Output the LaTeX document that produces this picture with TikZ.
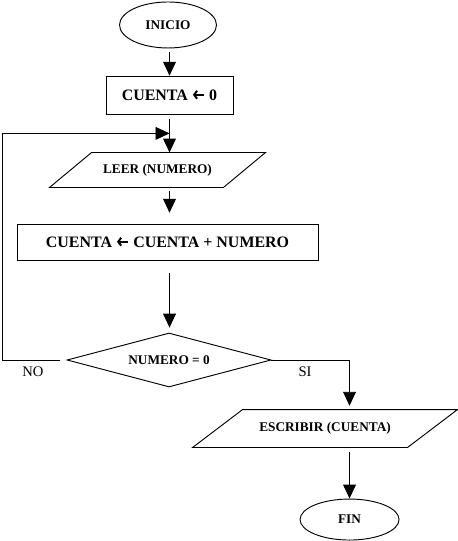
\documentclass[tikz,border=0pt]{standalone}
\usepackage{fontspec}
\setmainfont{Liberation Serif}
\usetikzlibrary{shapes.geometric, arrows.meta, positioning, calc}

\newcommand{\asigna}{\tikz[baseline=-0.75ex]\draw[line width=1.5pt, {Straight Barb[length=2.2pt, width=6pt, line width=1.5pt]}-] (0,0) -- (0.3,0);}

\begin{document}
\begin{tikzpicture}[
    line width=0.7pt,
    terminal/.style={draw, ellipse, inner sep=0pt, font=\bfseries\fontsize{10}{12}\selectfont},
    proceso/.style={draw, rectangle, inner sep=0pt, font=\bfseries\fontsize{12}{14}\selectfont},
    datos/.style={rectangle, inner sep=0pt, font=\bfseries\fontsize{10}{12}\selectfont},
    decision_box/.style={draw, diamond, aspect=3.78, inner sep=0pt, font=\bfseries\fontsize{10}{12}\selectfont},
    etiqueta/.style={font=\fontsize{11}{13}\selectfont},
    flecha/.style={-{Triangle[length=0.37cm, width=0.34cm]}}
]

\useasboundingbox (0,0) rectangle (12.118,-14.314);

% INICIO Y CONTADOR
\node[terminal, minimum width=2.566cm, minimum height=1.217cm] (inicio) at (4.445,-0.661) {INICIO};
\node[proceso, minimum width=3.360cm, minimum height=1.005cm] (cuenta0) at (4.485,-2.514) {CUENTA \asigna{} 0};

% LECTURA Y SUMA
\node[datos, minimum width=4.577cm, minimum height=0.9cm] (leer) at (4.167,-4.498) {LEER (NUMERO)};
\draw ([xshift=-0.556cm]leer.south west) -- ([xshift=-0.556cm]leer.south east)
   -- ([xshift=0.556cm]leer.north east) -- ([xshift=0.556cm]leer.north west) -- cycle;
\node[proceso, minimum width=7.964cm, minimum height=0.953cm] (suma) at (4.432,-6.403) {CUENTA \asigna{} CUENTA + NUMERO};

% DECISION
\node[decision_box, minimum width=5.398cm, minimum height=1.429cm] (prueba) at (4.472,-9.525) {NUMERO = 0};
\node[etiqueta] (no) at (0.873,-9.843) {NO};
\node[etiqueta] (si) at (8.07,-9.843) {SI};

% SALIDA Y FIN
\node[datos, minimum width=5.662cm, minimum height=0.979cm] (escribir) at (8.600,-11.338) {ESCRIBIR (CUENTA)};
\draw ([xshift=-0.661cm]escribir.south west) -- ([xshift=-0.661cm]escribir.south east)
   -- ([xshift=0.661cm]escribir.north east) -- ([xshift=0.661cm]escribir.north west) -- cycle;
\node[terminal, minimum width=2.620cm, minimum height=1.085cm] (fin) at (9.248,-13.746) {FIN};

% CONECTORES
\coordinate (union) at ($(cuenta0.south)!0.5!(cuenta0.south |- leer.north)$);
\coordinate (borde) at (0.053,0);

\draw[flecha, shorten <=0.1cm] (inicio.south -| cuenta0) -- (cuenta0.north);
\draw[flecha, shorten <=0.13cm] (cuenta0.south) -- (cuenta0.south |- leer.north);
\draw[flecha, shorten <=0.1cm, shorten >=0.29cm] (leer.south -| cuenta0) -- (suma.north -| cuenta0);
\draw[flecha, shorten <=0.34cm, shorten >=0.13cm] (suma.south -| cuenta0) -- (prueba.north -| cuenta0);

\draw[flecha] ([xshift=-0.16cm]prueba.west) -| (borde |- union) -- (union);
\draw[flecha, shorten >=0.1cm] (prueba.east) -| (fin.north |- escribir.north);
\draw[flecha, shorten <=0.13cm] (escribir.south -| fin) -- (fin.north);

\end{tikzpicture}
\end{document}
